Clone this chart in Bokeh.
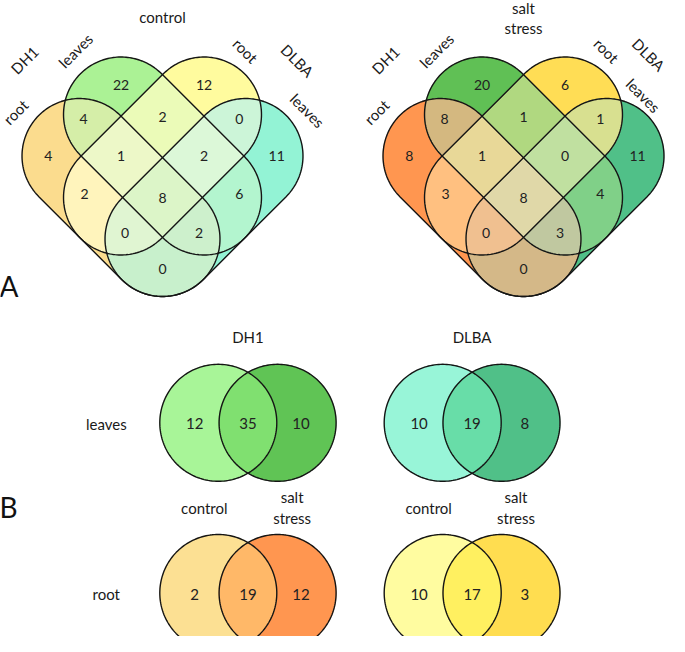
import numpy as np
from itertools import combinations
from bokeh.plotting import figure
from bokeh.models import Range1d, ColumnDataSource
from bokeh.embed import file_html
from bokeh.resources import INLINE
from bokeh.core.properties import value

# ---------------- data ----------------
set_keys = ["A", "B", "C", "D"]          # A: DH1 root, B: DH1 leaves, C: DLBA root, D: DLBA leaves
set_names = ["root", "leaves", "root", "leaves"]
group_names = ["DH1", "DLBA"]
region_keys = ["A", "B", "C", "D", "AB", "AC", "AD", "BC", "BD", "CD",
               "ABC", "ABD", "ACD", "BCD", "ABCD"]
control_counts = [4, 22, 12, 11, 4, 2, 0, 2, 6, 0, 1, 2, 0, 2, 8]
salt_counts = [8, 20, 6, 11, 8, 3, 0, 1, 4, 1, 1, 3, 0, 0, 8]
control_colors = ["#FBDC8E", "#ABF295", "#FFFB9E", "#93F3D5", "#D5EEA8", "#FFF4BC",
                  "#C8F0CC", "#EBFBB8", "#B3F5CF", "#CCF5D8", "#EDF8C8", "#CDF0CC",
                  "#E0F5D2", "#DCF8D8", "#DCF5C8"]
salt_colors = ["#FF9650", "#60C055", "#FFDD55", "#50C088", "#D4B880", "#FFC080",
               "#D4B888", "#B0D880", "#80D088", "#D8E090", "#E8D898", "#C0C8A0",
               "#F0C090", "#C0E0A0", "#E0D8A8"]
conditions = ["control", "salt\nstress"]

rows_b = ["leaves", "root"]
b_counts = {("leaves", "DH1"): [12, 35, 10], ("leaves", "DLBA"): [10, 19, 8],
            ("root", "DH1"): [2, 19, 12], ("root", "DLBA"): [10, 17, 3]}
b_colors = {("leaves", "DH1"): ["#A8F598", "#80E070", "#60C455"],
            ("leaves", "DLBA"): ["#98F5D8", "#68DDA8", "#50C088"],
            ("root", "DH1"): ["#FCE093", "#FFB868", "#FF9650"],
            ("root", "DLBA"): ["#FFFCA0", "#FFF060", "#FFDD50"]}

# ---------------- layout ----------------
W, H = 669, 636
FONT = value("Lato")
p = figure(width=W, height=H, x_range=Range1d(0, W), y_range=Range1d(H, 0),
           output_backend="svg", toolbar_location=None, min_border=0,
           x_axis_type=None, y_axis_type=None)
p.grid.visible = False
p.outline_line_color = None
p.background_fill_color = "white"
p.border_fill_color = "white"


def clip_poly(subject, clipper):
    n = len(clipper)
    area = 0.0
    for i in range(n):
        x1, y1 = clipper[i]
        x2, y2 = clipper[(i + 1) % n]
        area += x1 * y2 - x2 * y1
    sgn = 1.0 if area > 0 else -1.0
    out = list(subject)
    for i in range(n):
        ax, ay = clipper[i]
        bx, by = clipper[(i + 1) % n]
        inp = out
        out = []
        if not inp:
            return []
        s = inp[-1]
        ds = sgn * ((bx - ax) * (s[1] - ay) - (by - ay) * (s[0] - ax))
        for e in inp:
            de = sgn * ((bx - ax) * (e[1] - ay) - (by - ay) * (e[0] - ax))
            if de >= 0:
                if ds < 0:
                    t = ds / (ds - de)
                    out.append((s[0] + t * (e[0] - s[0]), s[1] + t * (e[1] - s[1])))
                out.append(e)
            elif ds >= 0:
                t = ds / (ds - de)
                out.append((s[0] + t * (e[0] - s[0]), s[1] + t * (e[1] - s[1])))
            s, ds = e, de
    return out


def stadium(P1, P2, r, n=100):
    P1 = np.array(P1, float)
    P2 = np.array(P2, float)
    u = P2 - P1
    a = np.arctan2(u[1], u[0])
    pts = []
    for t in np.linspace(a - np.pi / 2, a + np.pi / 2, n):
        pts.append((P2[0] + r * np.cos(t), P2[1] + r * np.sin(t)))
    for t in np.linspace(a + np.pi / 2, a + 3 * np.pi / 2, n):
        pts.append((P1[0] + r * np.cos(t), P1[1] + r * np.sin(t)))
    return pts


def circle_poly(cx, cy, r, n=180):
    t = np.linspace(0, 2 * np.pi, n, endpoint=False)
    return list(zip(cx + r * np.cos(t), cy + r * np.sin(t)))


def draw_regions(shapes, keys, colors):
    # painter's order: singles, pairs, triples, ... (each higher level covers lower ones)
    xs, ys, cs = [], [], []
    for k in range(1, len(shapes) + 1):
        for combo in combinations(range(len(shapes)), k):
            poly = shapes[combo[0]]
            for j in combo[1:]:
                poly = clip_poly(poly, shapes[j])
            if len(poly) < 3:
                continue
            key = "".join(keys[j] for j in combo)
            xs.append([q[0] for q in poly])
            ys.append([q[1] for q in poly])
            cs.append(colors[key])
    src = ColumnDataSource(dict(xs=xs, ys=ys, c=cs))
    p.patches("xs", "ys", source=src, fill_color="c", line_color="c", line_width=0.6)
    ox = [[q[0] for q in s] + [s[0][0]] for s in shapes]
    oy = [[q[1] for q in s] + [s[0][1]] for s in shapes]
    p.multi_line(ox, oy, line_color="#151515", line_width=1.4)


# ---------------- panel A: two 4-set diagrams ----------------
g = 41.5
R = 1.385
axes_grid = {"A": ((-2, 0), (0, -2)), "B": ((-1, 1), (1, -1)),
             "C": ((1, 1), (-1, -1)), "D": ((2, 0), (0, -2))}
anchors = {"A": (-2.75, 0.0), "B": (-1.0, 1.72), "C": (1.0, 1.72), "D": (2.75, 0.0),
           "AB": (-1.9, 0.9), "BC": (0.0, 0.95), "CD": (1.85, 0.9), "AC": (-1.88, -0.92),
           "BD": (1.85, -0.92), "AD": (0.0, -2.72), "ABC": (-1.0, 0.0), "BCD": (1.0, 0.0),
           "ACD": (-0.9, -1.85), "ABD": (0.88, -1.85), "ABCD": (0.0, -1.0)}
label_off = {"A": (-147, -44, 45), "B": (-87, -105.5, 45), "C": (83, -105.5, -45),
             "D": (145, -45.5, -45)}
group_off = {"DH1": (-138, -96, 45), "DLBA": (135, -95.5, -45)}
centers = [(162.0, 155.5), (523.0, 155.5)]


def fit_right(x, y, txt):
    # keep rotated labels inside the canvas on the right edge
    half = 0.5 * (7.5 * len(txt) + 15) * 0.707 + 3
    if x + half > W - 2:
        shift = x + half - (W - 2)
        return x - shift, y - 0.6 * shift
    return x, y


for (cx, cy), counts, cols, cond in zip(centers, [control_counts, salt_counts],
                                        [control_colors, salt_colors], conditions):
    def to_px(gx, gy):
        return (cx + gx * g, cy - gy * g)
    shapes = []
    for k in set_keys:
        P1, P2 = axes_grid[k]
        pts = stadium(P1, P2, R)
        shapes.append([to_px(a, b) for a, b in pts])
    draw_regions(shapes, set_keys, dict(zip(region_keys, cols)))
    tx = [to_px(*anchors[k])[0] for k in region_keys]
    ty = [to_px(*anchors[k])[1] for k in region_keys]
    p.text(tx, ty, text=[str(v) for v in counts], text_font=FONT, text_font_size="14px",
           text_align="center", text_baseline="middle", text_color="#222222")
    # set labels
    lx, ly, lt, la = [], [], [], []
    for k, nm in zip(set_keys, set_names):
        dx, dy, ang = label_off[k]
        x, y = fit_right(cx + dx, cy + dy, nm)
        lx.append(x); ly.append(y); lt.append(nm); la.append(np.deg2rad(ang))
    for nm in group_names:
        dx, dy, ang = group_off[nm]
        x, y = fit_right(cx + dx, cy + dy, nm)
        lx.append(x); ly.append(y); lt.append(nm); la.append(np.deg2rad(ang))
    p.text(lx, ly, text=lt, angle=la, text_font=FONT, text_font_size="15px",
           text_align="center", text_baseline="middle", text_color="#1a1a1a")
    lines = cond.split("\n")
    if len(lines) == 1:
        p.text([cx], [cy - 139], text=lines, text_font=FONT, text_font_size="15px",
               text_align="center", text_baseline="middle", text_color="#1a1a1a")
    else:
        p.text([cx, cx], [7.5, 27], text=lines, text_font=FONT, text_font_size="15px",
               text_align="center", text_baseline="middle", text_color="#1a1a1a")

p.text([8.5], [285], text=["A"], text_font=FONT, text_font_size="28px",
       text_align="center", text_baseline="middle", text_color="#111111")

# ---------------- panel B: 2-set diagrams ----------------
rB = 58.5
col_cx = {"DH1": (217.8, 277.1), "DLBA": (442.2, 501.0)}
row_cy = {"leaves": 422.3, "root": 592.5}
for row in rows_b:
    for grp in group_names:
        c1, c2 = col_cx[grp]
        cy = row_cy[row]
        shapes = [circle_poly(c1, cy, rB), circle_poly(c2, cy, rB)]
        cols = b_colors[(row, grp)]
        draw_regions(shapes, ["x", "y"], {"x": cols[0], "xy": cols[1], "y": cols[2]})
        cnt = b_counts[(row, grp)]
        p.text([c1 - 23.6, (c1 + c2) / 2, c2 + 23.3], [cy + 1] * 3,
               text=[str(v) for v in cnt], text_font=FONT, text_font_size="15px",
               text_align="center", text_baseline="middle", text_color="#222222")

for grp in group_names:
    c1, c2 = col_cx[grp]
    p.text([(c1 + c2) / 2], [336], text=[grp], text_font=FONT, text_font_size="15px",
           text_align="center", text_baseline="middle", text_color="#1a1a1a")
    p.text([c1 - 14], [507.3], text=["control"], text_font=FONT, text_font_size="15px",
           text_align="center", text_baseline="middle", text_color="#1a1a1a")
    p.text([c2 + 14.5, c2 + 14.5], [496.7, 517.3], text=["salt", "stress"], text_font=FONT,
           text_font_size="15px", text_align="center", text_baseline="middle",
           text_color="#1a1a1a")
for row in rows_b:
    p.text([105.8], [row_cy[row] + 1], text=[row], text_font=FONT, text_font_size="15px",
           text_align="center", text_baseline="middle", text_color="#1a1a1a")

p.text([8], [506.7], text=["B"], text_font=FONT, text_font_size="28px",
       text_align="center", text_baseline="middle", text_color="#111111")

open("out.html", "w").write(file_html(p, INLINE))
